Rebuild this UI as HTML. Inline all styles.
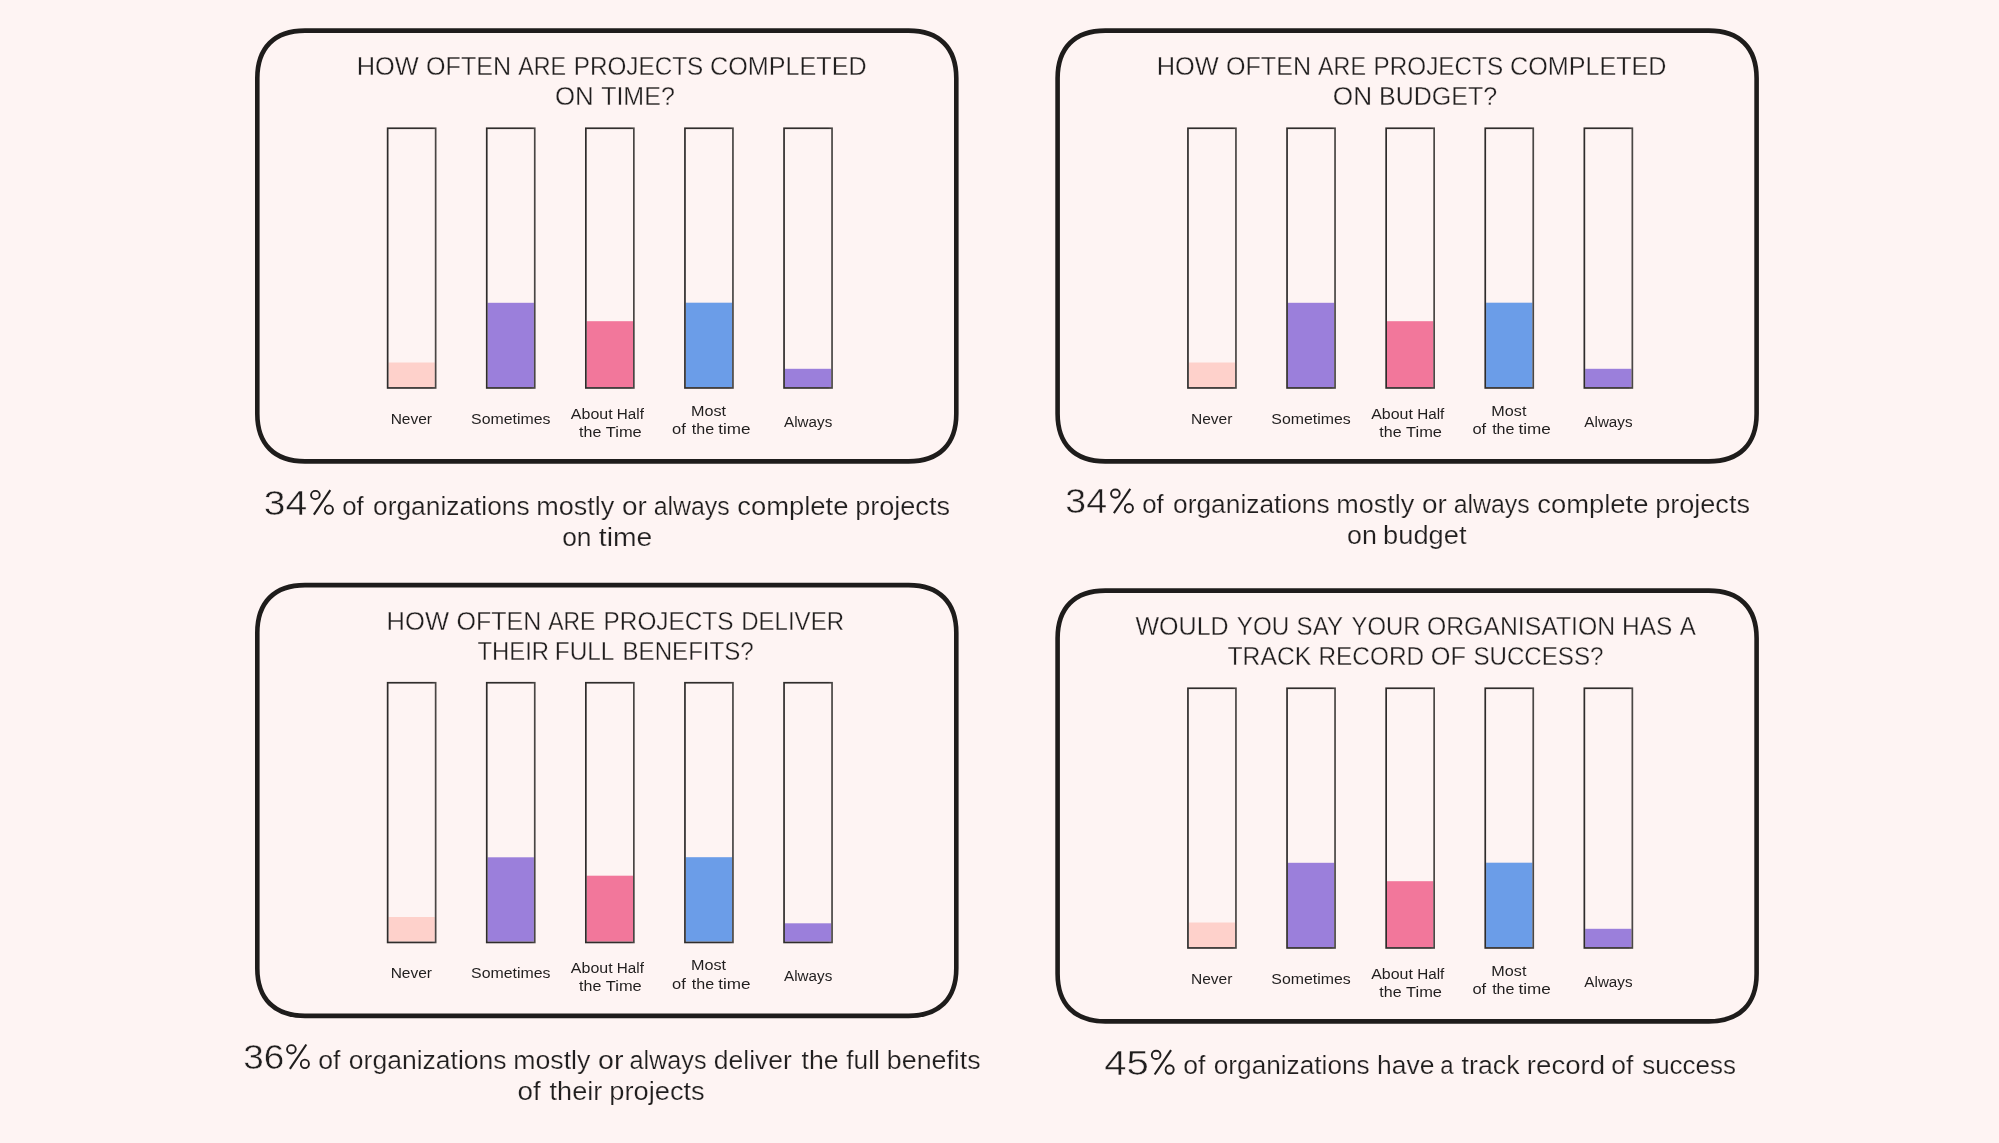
<!DOCTYPE html>
<html><head><meta charset="utf-8"><title>Project delivery survey</title>
<style>
html,body{margin:0;padding:0;background:#fef4f3;}
body{width:1999px;height:1143px;overflow:hidden;}
svg{display:block;will-change:transform;}
text{font-family:"Liberation Sans",sans-serif;fill:#201e1e;stroke:#fef4f3;}
text.t{stroke-width:0.32px;}
text.c{stroke-width:0.2px;}
text.p{stroke-width:0.5px;}
text.l{stroke-width:0px;stroke:none;}
</style></head><body>
<svg width="1999" height="1143" viewBox="0 0 1999 1143">
<defs><linearGradient id="bg" x1="0" y1="0" x2="1" y2="0"><stop offset="0" stop-color="#2e2c2b"/><stop offset="0.92" stop-color="#332f2e"/><stop offset="1" stop-color="#4a4745"/></linearGradient></defs>
<rect width="1999" height="1143" fill="#fef4f3"/>
<path d="M305.00,30.60 H908.60 C939.13,30.60 956.30,47.77 956.30,78.30 V413.70 C956.30,444.23 939.13,461.40 908.60,461.40 H305.00 C274.47,461.40 257.30,444.23 257.30,413.70 V78.30 C257.30,47.77 274.47,30.60 305.00,30.60 Z" fill="none" stroke="#1e1c1b" stroke-width="4.6"/>
<rect x="388.50" y="362.50" width="46.30" height="24.60" fill="#fed1cb"/>
<rect x="387.65" y="128.25" width="48.00" height="259.70" fill="none" stroke="url(#bg)" stroke-width="1.7"/>
<rect x="487.60" y="302.80" width="46.30" height="84.30" fill="#9b7fdb"/>
<rect x="486.75" y="128.25" width="48.00" height="259.70" fill="none" stroke="url(#bg)" stroke-width="1.7"/>
<rect x="586.70" y="321.20" width="46.30" height="65.90" fill="#f2779b"/>
<rect x="585.85" y="128.25" width="48.00" height="259.70" fill="none" stroke="url(#bg)" stroke-width="1.7"/>
<rect x="685.80" y="302.70" width="46.30" height="84.40" fill="#6b9de8"/>
<rect x="684.95" y="128.25" width="48.00" height="259.70" fill="none" stroke="url(#bg)" stroke-width="1.7"/>
<rect x="784.90" y="368.80" width="46.30" height="18.30" fill="#9b7fdb"/>
<rect x="784.05" y="128.25" width="48.00" height="259.70" fill="none" stroke="url(#bg)" stroke-width="1.7"/>
<text class="l" x="390.63" y="423.90" font-size="15.5" textLength="41.43" lengthAdjust="spacingAndGlyphs">Never</text>
<text class="l" x="471.08" y="423.80" font-size="15.5" textLength="79.39" lengthAdjust="spacingAndGlyphs">Sometimes</text>
<text class="l" x="570.87" y="418.70" font-size="15.5" textLength="41.75" lengthAdjust="spacingAndGlyphs">About</text>
<text class="l" x="616.85" y="418.70" font-size="15.5" textLength="27.13" lengthAdjust="spacingAndGlyphs">Half</text>
<text class="l" x="579.06" y="436.90" font-size="15.5" textLength="22.25" lengthAdjust="spacingAndGlyphs">the</text>
<text class="l" x="605.84" y="436.90" font-size="15.5" textLength="35.88" lengthAdjust="spacingAndGlyphs">Time</text>
<text class="l" x="691.07" y="415.90" font-size="15.5" textLength="35.05" lengthAdjust="spacingAndGlyphs">Most</text>
<text class="l" x="672.11" y="434.10" font-size="15.5" textLength="13.77" lengthAdjust="spacingAndGlyphs">of</text>
<text class="l" x="691.86" y="434.10" font-size="15.5" textLength="22.36" lengthAdjust="spacingAndGlyphs">the</text>
<text class="l" x="718.24" y="434.10" font-size="15.5" textLength="32.32" lengthAdjust="spacingAndGlyphs">time</text>
<text class="l" x="784.07" y="426.50" font-size="15.5" textLength="48.18" lengthAdjust="spacingAndGlyphs">Always</text>
<path d="M1105.30,30.60 H1708.90 C1739.43,30.60 1756.60,47.77 1756.60,78.30 V413.70 C1756.60,444.23 1739.43,461.40 1708.90,461.40 H1105.30 C1074.77,461.40 1057.60,444.23 1057.60,413.70 V78.30 C1057.60,47.77 1074.77,30.60 1105.30,30.60 Z" fill="none" stroke="#1e1c1b" stroke-width="4.6"/>
<rect x="1188.80" y="362.50" width="46.30" height="24.60" fill="#fed1cb"/>
<rect x="1187.95" y="128.25" width="48.00" height="259.70" fill="none" stroke="url(#bg)" stroke-width="1.7"/>
<rect x="1287.90" y="302.80" width="46.30" height="84.30" fill="#9b7fdb"/>
<rect x="1287.05" y="128.25" width="48.00" height="259.70" fill="none" stroke="url(#bg)" stroke-width="1.7"/>
<rect x="1387.00" y="321.20" width="46.30" height="65.90" fill="#f2779b"/>
<rect x="1386.15" y="128.25" width="48.00" height="259.70" fill="none" stroke="url(#bg)" stroke-width="1.7"/>
<rect x="1486.10" y="302.70" width="46.30" height="84.40" fill="#6b9de8"/>
<rect x="1485.25" y="128.25" width="48.00" height="259.70" fill="none" stroke="url(#bg)" stroke-width="1.7"/>
<rect x="1585.20" y="368.80" width="46.30" height="18.30" fill="#9b7fdb"/>
<rect x="1584.35" y="128.25" width="48.00" height="259.70" fill="none" stroke="url(#bg)" stroke-width="1.7"/>
<text class="l" x="1190.93" y="423.90" font-size="15.5" textLength="41.43" lengthAdjust="spacingAndGlyphs">Never</text>
<text class="l" x="1271.38" y="423.80" font-size="15.5" textLength="79.39" lengthAdjust="spacingAndGlyphs">Sometimes</text>
<text class="l" x="1371.17" y="418.70" font-size="15.5" textLength="41.75" lengthAdjust="spacingAndGlyphs">About</text>
<text class="l" x="1417.15" y="418.70" font-size="15.5" textLength="27.13" lengthAdjust="spacingAndGlyphs">Half</text>
<text class="l" x="1379.36" y="436.90" font-size="15.5" textLength="22.25" lengthAdjust="spacingAndGlyphs">the</text>
<text class="l" x="1406.14" y="436.90" font-size="15.5" textLength="35.88" lengthAdjust="spacingAndGlyphs">Time</text>
<text class="l" x="1491.37" y="415.90" font-size="15.5" textLength="35.05" lengthAdjust="spacingAndGlyphs">Most</text>
<text class="l" x="1472.41" y="434.10" font-size="15.5" textLength="13.77" lengthAdjust="spacingAndGlyphs">of</text>
<text class="l" x="1492.16" y="434.10" font-size="15.5" textLength="22.36" lengthAdjust="spacingAndGlyphs">the</text>
<text class="l" x="1518.54" y="434.10" font-size="15.5" textLength="32.32" lengthAdjust="spacingAndGlyphs">time</text>
<text class="l" x="1584.37" y="426.50" font-size="15.5" textLength="48.18" lengthAdjust="spacingAndGlyphs">Always</text>
<path d="M305.00,585.10 H908.60 C939.13,585.10 956.30,602.27 956.30,632.80 V968.20 C956.30,998.73 939.13,1015.90 908.60,1015.90 H305.00 C274.47,1015.90 257.30,998.73 257.30,968.20 V632.80 C257.30,602.27 274.47,585.10 305.00,585.10 Z" fill="none" stroke="#1e1c1b" stroke-width="4.6"/>
<rect x="388.50" y="917.00" width="46.30" height="24.60" fill="#fed1cb"/>
<rect x="387.65" y="682.75" width="48.00" height="259.70" fill="none" stroke="url(#bg)" stroke-width="1.7"/>
<rect x="487.60" y="857.30" width="46.30" height="84.30" fill="#9b7fdb"/>
<rect x="486.75" y="682.75" width="48.00" height="259.70" fill="none" stroke="url(#bg)" stroke-width="1.7"/>
<rect x="586.70" y="875.70" width="46.30" height="65.90" fill="#f2779b"/>
<rect x="585.85" y="682.75" width="48.00" height="259.70" fill="none" stroke="url(#bg)" stroke-width="1.7"/>
<rect x="685.80" y="857.20" width="46.30" height="84.40" fill="#6b9de8"/>
<rect x="684.95" y="682.75" width="48.00" height="259.70" fill="none" stroke="url(#bg)" stroke-width="1.7"/>
<rect x="784.90" y="923.30" width="46.30" height="18.30" fill="#9b7fdb"/>
<rect x="784.05" y="682.75" width="48.00" height="259.70" fill="none" stroke="url(#bg)" stroke-width="1.7"/>
<text class="l" x="390.63" y="978.40" font-size="15.5" textLength="41.43" lengthAdjust="spacingAndGlyphs">Never</text>
<text class="l" x="471.08" y="978.30" font-size="15.5" textLength="79.39" lengthAdjust="spacingAndGlyphs">Sometimes</text>
<text class="l" x="570.87" y="973.20" font-size="15.5" textLength="41.75" lengthAdjust="spacingAndGlyphs">About</text>
<text class="l" x="616.85" y="973.20" font-size="15.5" textLength="27.13" lengthAdjust="spacingAndGlyphs">Half</text>
<text class="l" x="579.06" y="991.40" font-size="15.5" textLength="22.25" lengthAdjust="spacingAndGlyphs">the</text>
<text class="l" x="605.84" y="991.40" font-size="15.5" textLength="35.88" lengthAdjust="spacingAndGlyphs">Time</text>
<text class="l" x="691.07" y="970.40" font-size="15.5" textLength="35.05" lengthAdjust="spacingAndGlyphs">Most</text>
<text class="l" x="672.11" y="988.60" font-size="15.5" textLength="13.77" lengthAdjust="spacingAndGlyphs">of</text>
<text class="l" x="691.86" y="988.60" font-size="15.5" textLength="22.36" lengthAdjust="spacingAndGlyphs">the</text>
<text class="l" x="718.24" y="988.60" font-size="15.5" textLength="32.32" lengthAdjust="spacingAndGlyphs">time</text>
<text class="l" x="784.07" y="981.00" font-size="15.5" textLength="48.18" lengthAdjust="spacingAndGlyphs">Always</text>
<path d="M1105.30,590.60 H1708.90 C1739.43,590.60 1756.60,607.77 1756.60,638.30 V973.70 C1756.60,1004.23 1739.43,1021.40 1708.90,1021.40 H1105.30 C1074.77,1021.40 1057.60,1004.23 1057.60,973.70 V638.30 C1057.60,607.77 1074.77,590.60 1105.30,590.60 Z" fill="none" stroke="#1e1c1b" stroke-width="4.6"/>
<rect x="1188.80" y="922.50" width="46.30" height="24.60" fill="#fed1cb"/>
<rect x="1187.95" y="688.25" width="48.00" height="259.70" fill="none" stroke="url(#bg)" stroke-width="1.7"/>
<rect x="1287.90" y="862.80" width="46.30" height="84.30" fill="#9b7fdb"/>
<rect x="1287.05" y="688.25" width="48.00" height="259.70" fill="none" stroke="url(#bg)" stroke-width="1.7"/>
<rect x="1387.00" y="881.20" width="46.30" height="65.90" fill="#f2779b"/>
<rect x="1386.15" y="688.25" width="48.00" height="259.70" fill="none" stroke="url(#bg)" stroke-width="1.7"/>
<rect x="1486.10" y="862.70" width="46.30" height="84.40" fill="#6b9de8"/>
<rect x="1485.25" y="688.25" width="48.00" height="259.70" fill="none" stroke="url(#bg)" stroke-width="1.7"/>
<rect x="1585.20" y="928.80" width="46.30" height="18.30" fill="#9b7fdb"/>
<rect x="1584.35" y="688.25" width="48.00" height="259.70" fill="none" stroke="url(#bg)" stroke-width="1.7"/>
<text class="l" x="1190.93" y="983.90" font-size="15.5" textLength="41.43" lengthAdjust="spacingAndGlyphs">Never</text>
<text class="l" x="1271.38" y="983.80" font-size="15.5" textLength="79.39" lengthAdjust="spacingAndGlyphs">Sometimes</text>
<text class="l" x="1371.17" y="978.70" font-size="15.5" textLength="41.75" lengthAdjust="spacingAndGlyphs">About</text>
<text class="l" x="1417.15" y="978.70" font-size="15.5" textLength="27.13" lengthAdjust="spacingAndGlyphs">Half</text>
<text class="l" x="1379.36" y="996.90" font-size="15.5" textLength="22.25" lengthAdjust="spacingAndGlyphs">the</text>
<text class="l" x="1406.14" y="996.90" font-size="15.5" textLength="35.88" lengthAdjust="spacingAndGlyphs">Time</text>
<text class="l" x="1491.37" y="975.90" font-size="15.5" textLength="35.05" lengthAdjust="spacingAndGlyphs">Most</text>
<text class="l" x="1472.41" y="994.10" font-size="15.5" textLength="13.77" lengthAdjust="spacingAndGlyphs">of</text>
<text class="l" x="1492.16" y="994.10" font-size="15.5" textLength="22.36" lengthAdjust="spacingAndGlyphs">the</text>
<text class="l" x="1518.54" y="994.10" font-size="15.5" textLength="32.32" lengthAdjust="spacingAndGlyphs">time</text>
<text class="l" x="1584.37" y="986.50" font-size="15.5" textLength="48.18" lengthAdjust="spacingAndGlyphs">Always</text>
<text class="t" x="356.82" y="75.00" font-size="26.2" textLength="61.97" lengthAdjust="spacingAndGlyphs">HOW</text>
<text class="t" x="426.01" y="75.00" font-size="26.2" textLength="85.14" lengthAdjust="spacingAndGlyphs">OFTEN</text>
<text class="t" x="518.15" y="75.00" font-size="26.2" textLength="47.95" lengthAdjust="spacingAndGlyphs">ARE</text>
<text class="t" x="573.71" y="75.00" font-size="26.2" textLength="129.51" lengthAdjust="spacingAndGlyphs">PROJECTS</text>
<text class="t" x="710.12" y="75.00" font-size="26.2" textLength="156.48" lengthAdjust="spacingAndGlyphs">COMPLETED</text>
<text class="t" x="554.98" y="105.40" font-size="26.2" textLength="38.73" lengthAdjust="spacingAndGlyphs">ON</text>
<text class="t" x="601.14" y="105.40" font-size="26.2" textLength="73.69" lengthAdjust="spacingAndGlyphs">TIME?</text>
<text class="t" x="1156.72" y="75.00" font-size="26.2" textLength="61.97" lengthAdjust="spacingAndGlyphs">HOW</text>
<text class="t" x="1225.91" y="75.00" font-size="26.2" textLength="85.14" lengthAdjust="spacingAndGlyphs">OFTEN</text>
<text class="t" x="1318.05" y="75.00" font-size="26.2" textLength="47.95" lengthAdjust="spacingAndGlyphs">ARE</text>
<text class="t" x="1373.61" y="75.00" font-size="26.2" textLength="129.51" lengthAdjust="spacingAndGlyphs">PROJECTS</text>
<text class="t" x="1510.02" y="75.00" font-size="26.2" textLength="156.48" lengthAdjust="spacingAndGlyphs">COMPLETED</text>
<text class="t" x="1332.86" y="105.40" font-size="26.2" textLength="39.28" lengthAdjust="spacingAndGlyphs">ON</text>
<text class="t" x="1378.95" y="105.40" font-size="26.2" textLength="118.18" lengthAdjust="spacingAndGlyphs">BUDGET?</text>
<text class="t" x="386.61" y="629.50" font-size="26.2" textLength="62.38" lengthAdjust="spacingAndGlyphs">HOW</text>
<text class="t" x="456.52" y="629.50" font-size="26.2" textLength="84.72" lengthAdjust="spacingAndGlyphs">OFTEN</text>
<text class="t" x="548.16" y="629.50" font-size="26.2" textLength="47.23" lengthAdjust="spacingAndGlyphs">ARE</text>
<text class="t" x="603.60" y="629.50" font-size="26.2" textLength="129.81" lengthAdjust="spacingAndGlyphs">PROJECTS</text>
<text class="t" x="741.23" y="629.50" font-size="26.2" textLength="102.78" lengthAdjust="spacingAndGlyphs">DELIVER</text>
<text class="t" x="477.46" y="659.50" font-size="26.2" textLength="71.64" lengthAdjust="spacingAndGlyphs">THEIR</text>
<text class="t" x="554.80" y="659.50" font-size="26.2" textLength="59.61" lengthAdjust="spacingAndGlyphs">FULL</text>
<text class="t" x="622.52" y="659.50" font-size="26.2" textLength="131.27" lengthAdjust="spacingAndGlyphs">BENEFITS?</text>
<text class="t" x="1135.39" y="635.00" font-size="26.2" textLength="93.31" lengthAdjust="spacingAndGlyphs">WOULD</text>
<text class="t" x="1236.87" y="635.00" font-size="26.2" textLength="52.40" lengthAdjust="spacingAndGlyphs">YOU</text>
<text class="t" x="1296.55" y="635.00" font-size="26.2" textLength="46.46" lengthAdjust="spacingAndGlyphs">SAY</text>
<text class="t" x="1351.47" y="635.00" font-size="26.2" textLength="69.03" lengthAdjust="spacingAndGlyphs">YOUR</text>
<text class="t" x="1426.94" y="635.00" font-size="26.2" textLength="188.16" lengthAdjust="spacingAndGlyphs">ORGANISATION</text>
<text class="t" x="1622.00" y="635.00" font-size="26.2" textLength="50.22" lengthAdjust="spacingAndGlyphs">HAS</text>
<text class="t" x="1679.75" y="635.00" font-size="26.2" textLength="16.09" lengthAdjust="spacingAndGlyphs">A</text>
<text class="t" x="1227.44" y="665.00" font-size="26.2" textLength="83.83" lengthAdjust="spacingAndGlyphs">TRACK</text>
<text class="t" x="1318.50" y="665.00" font-size="26.2" textLength="105.67" lengthAdjust="spacingAndGlyphs">RECORD</text>
<text class="t" x="1430.80" y="665.00" font-size="26.2" textLength="35.22" lengthAdjust="spacingAndGlyphs">OF</text>
<text class="t" x="1473.40" y="665.00" font-size="26.2" textLength="130.09" lengthAdjust="spacingAndGlyphs">SUCCESS?</text>
<text class="p" x="263.71" y="514.80" font-size="35.8" textLength="43.43" lengthAdjust="spacingAndGlyphs">34</text>
<g fill="none" stroke="#201e1e" stroke-width="1.9"><ellipse cx="315.40" cy="495.00" rx="4.35" ry="4.15"/><ellipse cx="328.90" cy="509.60" rx="4.05" ry="4.25"/><line x1="313.90" y1="514.60" x2="330.30" y2="490.20" stroke-width="2.1"/></g>
<text class="c" x="342.22" y="514.80" font-size="25.0" textLength="21.55" lengthAdjust="spacingAndGlyphs">of</text>
<text class="c" x="373.09" y="514.80" font-size="25.0" textLength="156.56" lengthAdjust="spacingAndGlyphs">organizations</text>
<text class="c" x="536.20" y="514.80" font-size="25.0" textLength="78.15" lengthAdjust="spacingAndGlyphs">mostly</text>
<text class="c" x="621.93" y="514.80" font-size="25.0" textLength="24.84" lengthAdjust="spacingAndGlyphs">or</text>
<text class="c" x="653.64" y="514.80" font-size="25.0" textLength="76.06" lengthAdjust="spacingAndGlyphs">always</text>
<text class="c" x="737.23" y="514.80" font-size="25.0" textLength="111.28" lengthAdjust="spacingAndGlyphs">complete</text>
<text class="c" x="855.15" y="514.80" font-size="25.0" textLength="94.82" lengthAdjust="spacingAndGlyphs">projects</text>
<text class="c" x="562.19" y="545.50" font-size="25.0" textLength="29.32" lengthAdjust="spacingAndGlyphs">on</text>
<text class="c" x="598.87" y="545.50" font-size="25.0" textLength="53.38" lengthAdjust="spacingAndGlyphs">time</text>
<text class="p" x="1065.37" y="513.40" font-size="35.8" textLength="41.73" lengthAdjust="spacingAndGlyphs">34</text>
<g fill="none" stroke="#201e1e" stroke-width="1.9"><ellipse cx="1115.40" cy="493.60" rx="4.35" ry="4.15"/><ellipse cx="1128.90" cy="508.20" rx="4.05" ry="4.25"/><line x1="1113.90" y1="513.20" x2="1130.30" y2="488.80" stroke-width="2.1"/></g>
<text class="c" x="1142.22" y="513.40" font-size="25.0" textLength="21.55" lengthAdjust="spacingAndGlyphs">of</text>
<text class="c" x="1173.09" y="513.40" font-size="25.0" textLength="156.56" lengthAdjust="spacingAndGlyphs">organizations</text>
<text class="c" x="1336.20" y="513.40" font-size="25.0" textLength="78.15" lengthAdjust="spacingAndGlyphs">mostly</text>
<text class="c" x="1421.93" y="513.40" font-size="25.0" textLength="24.84" lengthAdjust="spacingAndGlyphs">or</text>
<text class="c" x="1453.64" y="513.40" font-size="25.0" textLength="76.06" lengthAdjust="spacingAndGlyphs">always</text>
<text class="c" x="1537.23" y="513.40" font-size="25.0" textLength="111.28" lengthAdjust="spacingAndGlyphs">complete</text>
<text class="c" x="1655.15" y="513.40" font-size="25.0" textLength="94.82" lengthAdjust="spacingAndGlyphs">projects</text>
<text class="c" x="1346.97" y="543.60" font-size="25.0" textLength="29.87" lengthAdjust="spacingAndGlyphs">on</text>
<text class="c" x="1383.14" y="543.60" font-size="25.0" textLength="83.36" lengthAdjust="spacingAndGlyphs">budget</text>
<text class="p" x="243.35" y="1069.10" font-size="35.8" textLength="41.03" lengthAdjust="spacingAndGlyphs">36</text>
<g fill="none" stroke="#201e1e" stroke-width="1.9"><ellipse cx="291.40" cy="1049.30" rx="4.35" ry="4.15"/><ellipse cx="304.90" cy="1063.90" rx="4.05" ry="4.25"/><line x1="289.90" y1="1068.90" x2="306.30" y2="1044.50" stroke-width="2.1"/></g>
<text class="c" x="318.28" y="1069.10" font-size="25.0" textLength="22.28" lengthAdjust="spacingAndGlyphs">of</text>
<text class="c" x="348.89" y="1069.10" font-size="25.0" textLength="157.67" lengthAdjust="spacingAndGlyphs">organizations</text>
<text class="c" x="513.23" y="1069.10" font-size="25.0" textLength="77.12" lengthAdjust="spacingAndGlyphs">mostly</text>
<text class="c" x="598.00" y="1069.10" font-size="25.0" textLength="25.48" lengthAdjust="spacingAndGlyphs">or</text>
<text class="c" x="629.53" y="1069.10" font-size="25.0" textLength="77.08" lengthAdjust="spacingAndGlyphs">always</text>
<text class="c" x="713.79" y="1069.10" font-size="25.0" textLength="78.15" lengthAdjust="spacingAndGlyphs">deliver</text>
<text class="c" x="801.60" y="1069.10" font-size="25.0" textLength="37.09" lengthAdjust="spacingAndGlyphs">the</text>
<text class="c" x="846.23" y="1069.10" font-size="25.0" textLength="33.63" lengthAdjust="spacingAndGlyphs">full</text>
<text class="c" x="886.87" y="1069.10" font-size="25.0" textLength="93.79" lengthAdjust="spacingAndGlyphs">benefits</text>
<text class="c" x="517.53" y="1099.50" font-size="25.0" textLength="23.23" lengthAdjust="spacingAndGlyphs">of</text>
<text class="c" x="549.59" y="1099.50" font-size="25.0" textLength="52.66" lengthAdjust="spacingAndGlyphs">their</text>
<text class="c" x="609.24" y="1099.50" font-size="25.0" textLength="95.54" lengthAdjust="spacingAndGlyphs">projects</text>
<text class="p" x="1104.33" y="1074.70" font-size="35.8" textLength="44.60" lengthAdjust="spacingAndGlyphs">45</text>
<g fill="none" stroke="#201e1e" stroke-width="1.9"><ellipse cx="1156.15" cy="1054.90" rx="4.35" ry="4.15"/><ellipse cx="1169.65" cy="1069.50" rx="4.05" ry="4.25"/><line x1="1154.65" y1="1074.50" x2="1171.05" y2="1050.10" stroke-width="2.1"/></g>
<text class="c" x="1183.28" y="1074.40" font-size="25.0" textLength="22.18" lengthAdjust="spacingAndGlyphs">of</text>
<text class="c" x="1213.80" y="1074.40" font-size="25.0" textLength="155.85" lengthAdjust="spacingAndGlyphs">organizations</text>
<text class="c" x="1376.96" y="1074.40" font-size="25.0" textLength="57.41" lengthAdjust="spacingAndGlyphs">have</text>
<text class="c" x="1440.18" y="1074.40" font-size="25.0" textLength="13.32" lengthAdjust="spacingAndGlyphs">a</text>
<text class="c" x="1461.60" y="1074.40" font-size="25.0" textLength="57.97" lengthAdjust="spacingAndGlyphs">track</text>
<text class="c" x="1526.87" y="1074.40" font-size="25.0" textLength="78.21" lengthAdjust="spacingAndGlyphs">record</text>
<text class="c" x="1611.29" y="1074.40" font-size="25.0" textLength="22.07" lengthAdjust="spacingAndGlyphs">of</text>
<text class="c" x="1642.18" y="1074.40" font-size="25.0" textLength="93.76" lengthAdjust="spacingAndGlyphs">success</text>
</svg>
</body></html>
